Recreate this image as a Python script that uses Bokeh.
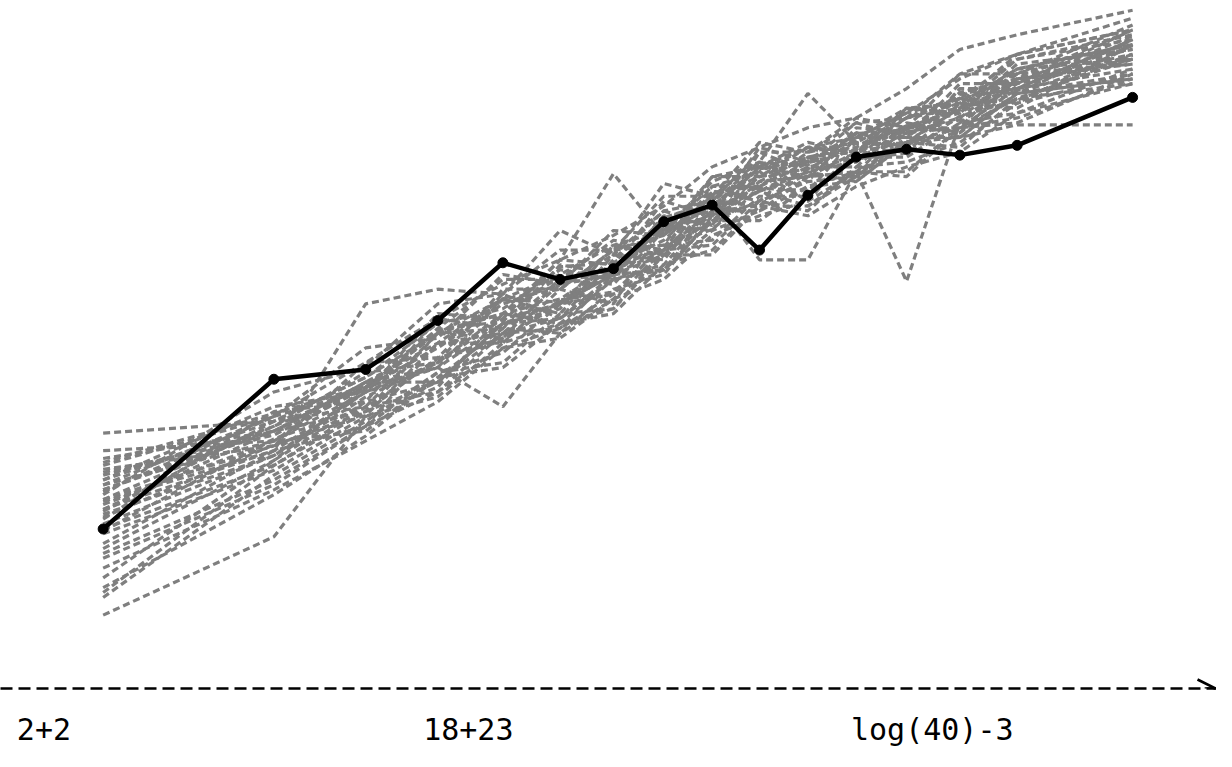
from bokeh.plotting import figure
from bokeh.models import Range1d, FixedTicker, Arrow, OpenHead
from bokeh.embed import file_html
from bokeh.resources import INLINE

# x positions of the observations
X = [0, 17.3, 26.6, 33.9, 40.5, 46.3, 51.7, 56.8, 61.7, 66.5, 71.4, 76.3, 81.4, 86.8, 92.6, 104.3]

# observed series (black)
OBSERVED = [100, 253, 263, 313, 372, 355, 366, 414, 431, 385, 441, 480, 488, 482, 492, 541]

# simulated series (grey, dashed)
G1 = [198, 210, 255, 310, 325, 365, 355, 415, 430, 470, 490, 485, 520, 530, 580, 605]
G2 = [172, 200, 220, 300, 295, 355, 395, 385, 450, 450, 485, 495, 490, 550, 550, 600]
G3 = [161, 185, 270, 275, 340, 315, 375, 425, 410, 475, 455, 510, 505, 510, 570, 580]
G4 = [12, 92, 215, 245, 320, 310, 355, 370, 425, 425, 460, 465, 510, 510, 540, 580]
G5 = [30, 155, 210, 260, 280, 330, 340, 390, 395, 440, 440, 480, 480, 515, 525, 570]
G6 = [80, 170, 245, 265, 335, 320, 380, 375, 435, 430, 470, 470, 515, 505, 560, 575]
G7 = [110, 220, 230, 315, 305, 370, 360, 420, 410, 485, 465, 505, 490, 550, 545, 600]
G8 = [120, 180, 205, 290, 290, 345, 330, 410, 405, 465, 435, 490, 485, 535, 530, 595]
G9 = [140, 205, 260, 270, 345, 345, 385, 390, 460, 460, 490, 475, 530, 525, 575, 590]
G10 = [150, 225, 240, 320, 315, 375, 370, 435, 420, 490, 475, 515, 500, 555, 555, 610]
G11 = [100, 165, 225, 240, 300, 305, 360, 365, 415, 415, 450, 455, 495, 490, 540, 555]
G12 = [75, 150, 205, 260, 270, 320, 325, 385, 390, 435, 425, 470, 475, 495, 535, 565]
G13 = [60, 140, 190, 230, 285, 295, 335, 355, 400, 420, 435, 465, 465, 510, 520, 560]
G14 = [135, 240, 265, 330, 340, 385, 385, 440, 440, 495, 485, 520, 510, 565, 565, 615]
G15 = [145, 215, 285, 295, 360, 350, 405, 400, 460, 470, 495, 485, 530, 535, 585, 610]
G16 = [125, 190, 200, 255, 305, 300, 345, 360, 420, 445, 430, 460, 500, 500, 545, 565]
G17 = [155, 200, 250, 250, 310, 325, 390, 380, 445, 435, 480, 460, 505, 520, 565, 575]
G18 = [115, 175, 240, 305, 355, 355, 350, 405, 455, 475, 445, 500, 525, 540, 535, 595]
G19 = [95, 160, 215, 235, 290, 310, 320, 370, 385, 430, 420, 450, 470, 485, 525, 555]
G20 = [180, 190, 250, 265, 225, 300, 335, 385, 415, 455, 460, 485, 495, 530, 545, 585]
G21 = [130, 205, 245, 300, 320, 375, 463, 400, 440, 455, 480, 485, 510, 525, 560, 585]
G22 = [120, 200, 245, 285, 330, 350, 380, 453, 440, 475, 545, 495, 520, 535, 570, 595]
G23 = [140, 200, 250, 290, 335, 345, 385, 400, 440, 375, 375, 465, 353, 515, 555, 580]
G24 = [150, 210, 255, 300, 335, 360, 390, 405, 450, 465, 490, 500, 530, 500, 513, 513]
G25 = [165, 215, 270, 315, 350, 375, 400, 430, 470, 490, 510, 520, 550, 590, 605, 630]
G26 = [85, 180, 330, 345, 340, 405, 380, 425, 435, 485, 485, 515, 520, 565, 585, 622]
G27 = [130, 185, 220, 275, 295, 330, 360, 380, 425, 450, 475, 500, 525, 560, 585, 610]
G28 = [105, 175, 235, 270, 320, 335, 370, 395, 440, 460, 480, 490, 520, 540, 580, 600]
G29 = [145, 190, 240, 265, 310, 330, 360, 385, 425, 445, 465, 475, 510, 530, 570, 595]
G30 = [70, 145, 205, 240, 285, 305, 340, 365, 405, 425, 450, 465, 495, 510, 550, 570]
G31 = [118, 210, 225, 300, 305, 355, 360, 410, 425, 470, 460, 500, 500, 540, 550, 600]
G32 = [128, 180, 240, 270, 315, 330, 365, 385, 430, 445, 470, 478, 505, 518, 558, 580]
G33 = [138, 215, 242, 302, 320, 358, 366, 418, 434, 474, 472, 504, 508, 544, 556, 604]
G34 = [50, 170, 230, 250, 310, 315, 360, 365, 425, 430, 465, 455, 495, 500, 545, 560]
G35 = [40, 135, 195, 255, 265, 310, 325, 380, 380, 430, 430, 465, 460, 510, 515, 565]
G36 = [98, 192, 224, 274, 292, 334, 342, 388, 406, 448, 446, 478, 484, 522, 538, 584]
G37 = [168, 218, 246, 304, 312, 368, 372, 402, 430, 468, 476, 504, 504, 546, 560, 610]
G38 = [35, 165, 220, 250, 300, 315, 355, 365, 415, 435, 455, 460, 495, 505, 545, 560]
G39 = [158, 196, 244, 286, 334, 332, 366, 388, 444, 450, 474, 488, 512, 528, 566, 590]
G40 = [112, 186, 216, 290, 300, 350, 360, 406, 420, 460, 468, 494, 494, 534, 548, 594]

SIMULATED = [G1, G2, G3, G4, G5, G6, G7, G8, G9, G10, G11, G12, G13, G14, G15, G16,
             G17, G18, G19, G20, G21, G22, G23, G24, G25, G26, G27, G28, G29, G30,
             G31, G32, G33, G34, G35, G36, G37, G38, G39, G40]

# axis tick labels
TICK_POS = [-6, 37, 84]
TICK_LABELS = ["2+2", "18+23", "log(40)-3"]

X_START, X_END = -10.4, 112.8
Y_START, Y_END = -63, 640

p = figure(width=1216, height=751, output_backend="svg", toolbar_location=None,
           x_range=Range1d(X_START, X_END), y_range=Range1d(Y_START, Y_END),
           y_axis_location=None,
           min_border_left=0, min_border_right=0, min_border_top=0, min_border_bottom=63)
p.grid.visible = False
p.outline_line_color = None
p.background_fill_color = "white"
p.border_fill_color = "white"

p.multi_line(xs=[X for _ in SIMULATED], ys=SIMULATED, line_color="#7f7f7f",
             line_width=3.2, line_dash="7 4")

p.line(X, OBSERVED, line_color="black", line_width=4.5)
p.scatter(X, OBSERVED, size=10, color="black")

ax = p.xaxis[0]
ax.ticker = FixedTicker(ticks=TICK_POS)
ax.major_label_overrides = {t: l for t, l in zip(TICK_POS, TICK_LABELS)}
ax.major_tick_in = 0
ax.major_tick_out = 0
ax.minor_tick_in = 0
ax.minor_tick_out = 0
ax.axis_line_color = "black"
ax.axis_line_width = 2.6
ax.axis_line_dash = "12 6"
ax.major_label_text_font = "DejaVu Sans Mono"
ax.major_label_text_font_size = "30px"
ax.major_label_text_color = "black"
ax.major_label_standoff = 23

p.add_layout(Arrow(end=OpenHead(size=18, line_width=2.6, line_color="black"),
                   x_start=X_END - 1.2, y_start=Y_START, x_end=X_END - 0.1, y_end=Y_START,
                   line_width=2.6, line_color="black"))

open("out.html", "w").write(file_html(p, INLINE))
